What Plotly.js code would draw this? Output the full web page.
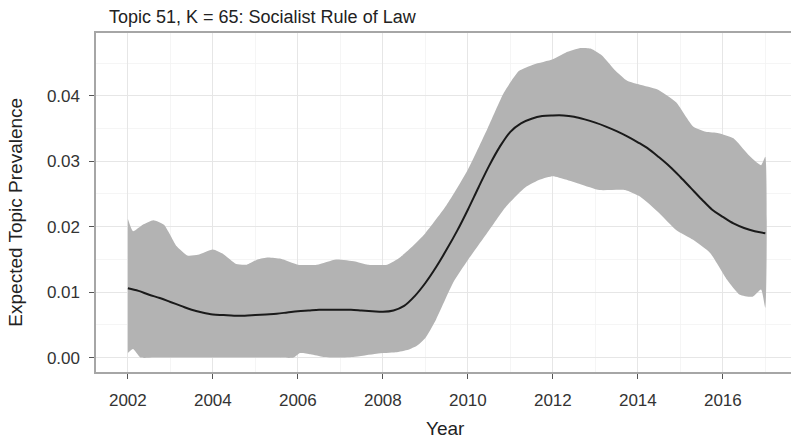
<!DOCTYPE html>
<html>
<head>
<meta charset="utf-8">
<script src="https://cdn.plot.ly/plotly-3.0.1.min.js"></script>
<style>
html,body{margin:0;padding:0;background:#fff;overflow:hidden;}
#chart{width:791px;height:438px;}
</style>
</head>
<body>
<div id="chart"></div>
<script>
// Mean (expected topic prevalence)
const meanYears = [2002.00,2002.25,2002.50,2002.75,2003.00,2003.25,2003.50,2003.75,2004.00,2004.25,2004.50,2004.75,
  2005.00,2005.25,2005.50,2005.75,2006.00,2006.25,2006.50,2006.75,2007.00,2007.25,2007.50,2007.75,
  2008.00,2008.25,2008.50,2008.75,2009.00,2009.25,2009.50,2009.75,2010.00,2010.25,2010.50,2010.75,
  2011.00,2011.25,2011.50,2011.75,2012.00,2012.25,2012.50,2012.75,2013.00,2013.25,2013.50,2013.75,
  2014.00,2014.25,2014.50,2014.75,2015.00,2015.25,2015.50,2015.75,2016.00,2016.25,2016.50,2016.75,2017.00];
const meanValues = [0.0106,0.0102,0.0096,0.0091,0.0085,0.0079,0.0073,0.0069,0.0066,0.0065,0.0064,0.0064,
  0.0065,0.0066,0.0067,0.0069,0.0071,0.0072,0.0073,0.0073,0.0073,0.0073,0.0072,0.0071,
  0.0070,0.0072,0.0079,0.0094,0.0114,0.0138,0.0165,0.0194,0.0226,0.0260,0.0293,0.0322,
  0.0345,0.0358,0.0365,0.0369,0.0370,0.0370,0.0368,0.0364,0.0359,0.0353,0.0346,0.0338,
  0.0329,0.0319,0.0306,0.0292,0.0276,0.0259,0.0242,0.0226,0.0215,0.0205,0.0198,0.0193,0.0190];

// Upper confidence bound
const upperYears = [2002.00,2002.12,2002.35,2002.60,2002.85,2003.15,2003.40,2003.65,2004.00,2004.25,2004.55,2004.80,
  2005.05,2005.30,2005.60,2006.00,2006.45,2006.90,2007.35,2007.65,2008.10,2008.40,2008.70,2009.00,
  2009.50,2010.00,2010.45,2010.85,2011.20,2011.55,2012.00,2012.30,2012.65,2012.90,2013.15,2013.45,
  2013.75,2014.05,2014.45,2014.90,2015.30,2015.60,2015.90,2016.25,2016.60,2016.90,2017.00];
const upperValues = [0.0212,0.0193,0.0203,0.0210,0.0203,0.0170,0.0156,0.0157,0.0165,0.0158,0.0143,0.0142,
  0.0150,0.0153,0.0151,0.0142,0.0142,0.0150,0.0147,0.0142,0.0142,0.0153,0.0170,0.0190,
  0.0233,0.0287,0.0348,0.0405,0.0438,0.0448,0.0456,0.0466,0.0473,0.0472,0.0462,0.0440,
  0.0423,0.0417,0.0410,0.0390,0.0353,0.0345,0.0343,0.0335,0.0310,0.0294,0.0307];

// Lower confidence bound (truncated at zero)
const lowerYears = [2002.00,2002.12,2002.30,2002.60,2003.00,2003.50,2004.00,2004.50,2005.00,2005.50,2005.90,
  2006.05,2006.30,2006.60,2006.90,2007.30,2007.85,2008.30,2008.60,2008.80,
  2009.00,2009.25,2009.65,2010.00,2010.45,2010.90,2011.35,2011.70,2012.00,2012.30,2012.65,2013.10,
  2013.70,2014.05,2014.50,2014.90,2015.30,2015.70,2016.10,2016.40,2016.70,2016.90,2017.00];
const lowerValues = [0.0007,0.0013,0.0000,0.0000,0.0000,0.0000,0.0000,0.0000,0.0000,0.0000,0.0000,
  0.0007,0.0005,0.0001,0.0000,0.0001,0.0006,0.0008,0.0012,0.0018,
  0.0030,0.0058,0.0114,0.0149,0.0190,0.0231,0.0260,0.0272,0.0277,0.0272,0.0265,0.0256,
  0.0256,0.0246,0.0221,0.0195,0.0180,0.0160,0.0119,0.0096,0.0093,0.0104,0.0076];

const xTickVals = [2002,2004,2006,2008,2010,2012,2014,2016];
const xTickText = ["2002","2004","2006","2008","2010","2012","2014","2016"];
const yTickVals = [0.00,0.01,0.02,0.03,0.04];
const yTickText = ["0.00","0.01","0.02","0.03","0.04"];

const band = {
  type: 'scatter', mode: 'lines',
  x: upperYears.concat(lowerYears.slice().reverse()),
  y: upperValues.concat(lowerValues.slice().reverse()),
  fill: 'toself', fillcolor: '#b3b3b3',
  line: {width: 0, color: '#b3b3b3', shape: 'spline', smoothing: 0.5},
  hoverinfo: 'skip', showlegend: false
};
const meanLine = {
  type: 'scatter', mode: 'lines',
  x: meanYears, y: meanValues,
  line: {color: '#1a1a1a', width: 2, shape: 'spline', smoothing: 1},
  showlegend: false
};

const fontFam = '"Liberation Sans", Arial, Helvetica, sans-serif';
const layout = {
  width: 791, height: 438,
  margin: {l: 96, r: 0, t: 33, b: 66, pad: 0},
  paper_bgcolor: '#ffffff', plot_bgcolor: '#ffffff',
  font: {family: fontFam, color: '#333333'},
  showlegend: false,
  xaxis: {
    range: [2001.25, 2017.604],
    tickmode: 'array', tickvals: xTickVals, ticktext: xTickText,
    ticks: 'outside', ticklen: 5, tickwidth: 1.2, tickcolor: '#555555',
    ticklabelstandoff: 7,
    tickfont: {size: 17, color: '#333333', family: fontFam},
    showgrid: true, gridcolor: '#e6e6e6', gridwidth: 1.2,
    minor: {dtick: 1, tick0: 2001, showgrid: true, gridcolor: '#f2f2f2', gridwidth: 0.8, ticks: ''},
    showline: true, linecolor: '#a6a6a6', linewidth: 1.6, mirror: true,
    zeroline: false, fixedrange: true
  },
  yaxis: {
    range: [-0.0022, 0.0496],
    tickmode: 'array', tickvals: yTickVals, ticktext: yTickText,
    ticks: 'outside', ticklen: 5, tickwidth: 1.2, tickcolor: '#555555',
    ticklabelstandoff: 6,
    tickfont: {size: 17, color: '#333333', family: fontFam},
    showgrid: true, gridcolor: '#e6e6e6', gridwidth: 1.2,
    minor: {dtick: 0.01, tick0: 0.005, showgrid: true, gridcolor: '#f2f2f2', gridwidth: 0.8, ticks: ''},
    showline: true, linecolor: '#a6a6a6', linewidth: 1.6, mirror: false,
    zeroline: false, fixedrange: true
  },
  annotations: [
    {text: 'Topic 51, K = 65: Socialist Rule of Law', xref: 'paper', yref: 'paper',
     x: 0.0158, y: 1.0, xanchor: 'left', yanchor: 'bottom', yshift: 4, showarrow: false,
     font: {size: 18, color: '#222222', family: fontFam}},
    {text: 'Year', xref: 'paper', yref: 'paper', x: 0.5035, y: 0, xanchor: 'center', yanchor: 'middle',
     yshift: -56, showarrow: false, font: {size: 19, color: '#222222', family: fontFam}},
    {text: 'Expected Topic Prevalence', xref: 'paper', yref: 'paper', x: 0, y: 0.47, xanchor: 'center',
     yanchor: 'middle', xshift: -80, textangle: -90, showarrow: false,
     font: {size: 19, color: '#222222', family: fontFam}}
  ]
};

Plotly.newPlot('chart', [band, meanLine], layout, {displayModeBar: false, staticPlot: true});
</script>
</body>
</html>
